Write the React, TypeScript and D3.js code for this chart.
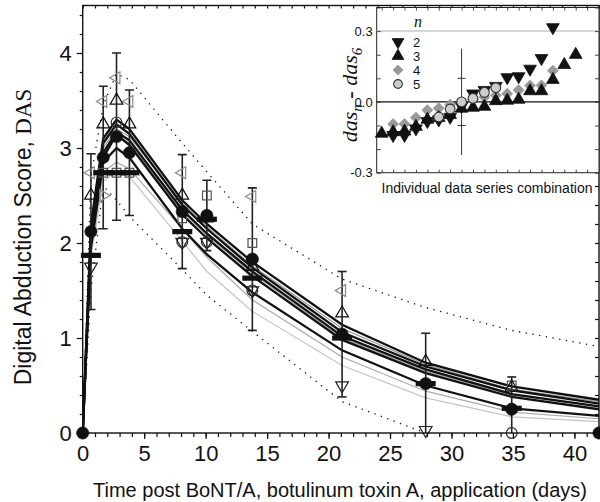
import React, { useEffect, useRef } from 'react'
import * as d3 from 'd3'

// measurement days
const days = [0, 0.67, 1.67, 2.75, 3.8, 8.1, 10.1, 13.8, 21.1, 27.9, 34.9, 42]

// mean DAS +/- SD (filled circles with error bars)
const dasMean = [0, 2.12, 2.9, 3.12, 2.95, 2.33, 2.29, 1.83, 1.04, 0.52, 0.25, 0]
const dasSd = [0, 0.82, 0.75, 0.88, 0.66, 0.6, 0.37, 0.75, 0.66, 0.53, 0.34, 0]

// individual data series (other symbols)
const dasDash = [null, 1.87, 2.74, 2.74, 2.74, 2.12, 2.25, 1.63, 1.0, 0.52, 0.26, null]
const dasUp = [null, 2.5, 3.25, 3.5, 3.25, 2.5, 2.26, 1.75, 1.26, 0.75, 0.48, null]
const dasDown = [null, 1.75, null, null, null, 2.01, 2.01, 1.5, 0.5, 0.03, null, null]
const dasLeft = [null, 2.74, 3.49, 3.74, 3.49, 2.74, null, 2.49, 1.5, null, null, null]
const dasRight = [null, null, 2.5, null, null, null, null, null, null, null, null, null]
const dasSquare = [null, null, 2.74, 2.74, 2.74, 2.26, 2.5, 2.0, null, null, 0.5, null]
const dasCircle = [null, null, null, 3.27, null, 2.01, 2.01, 1.5, null, null, 0.0, null]

// fitted curves
const fitA = [0, 2.2, 3.1, 3.3, 3.2, 2.45, 2.2, 1.8, 1.14, 0.74, 0.49, 0.35]
const fitD = [0, 2.15, 3.05, 3.25, 3.15, 2.4, 2.15, 1.74, 1.06, 0.7, 0.45, 0.31]
const fitB1 = [0, 2.05, 2.95, 3.17, 3.08, 2.35, 2.1, 1.7, 1.02, 0.67, 0.41, 0.28]
const fitB2 = [0, 2.0, 2.9, 3.14, 3.03, 2.3, 2.05, 1.65, 0.98, 0.63, 0.38, 0.25]
const fitC = [0, 1.95, 2.85, 3.0, 2.9, 2.15, 1.88, 1.48, 0.87, 0.5, 0.26, 0.18]
const fitG1 = [0, 2.1, 3.0, 3.2, 3.12, 2.42, 2.17, 1.76, 1.1, 0.72, 0.46, 0.33]
const fitG2 = [0, 2.05, 2.95, 3.15, 3.05, 2.33, 2.08, 1.68, 1.0, 0.65, 0.4, 0.28]
const fitG3 = [0, 1.9, 2.75, 2.85, 2.78, 2.15, 1.85, 1.4, 0.8, 0.44, 0.22, 0.15]
const fitG4 = [0, 1.85, 2.65, 2.75, 2.7, 2.02, 1.7, 1.28, 0.71, 0.37, 0.17, 0.12]
const bandUpper = [0, 2.7, 3.45, 3.78, 3.72, 3.05, 2.75, 2.2, 1.62, 1.32, 1.08, 0.91]
const bandLower = [0, 1.5, 2.6, 2.45, 2.28, 1.72, 1.45, 1.07, 0.33, 0, null, null]

const xMajor = [0, 5, 10, 15, 20, 25, 30, 35, 40]
const yMajor = [0, 1, 2, 3, 4]

// inset: das_n - das_6 per combination (index along x)
const combN2 = [[1, -0.141], [2, -0.141], [3, -0.113], [4, -0.082], [5, -0.075], [6, -0.064], [7, -0.018], [8, 0.035], [9, 0.05], [10, 0.067], [11, 0.104], [12, 0.108], [13, 0.14], [14, 0.185], [15, 0.316]]
const combN3 = [[0, -0.134], [1, -0.128], [2, -0.125], [3, -0.105], [4, -0.075], [5, -0.068], [6, -0.055], [7, -0.028], [8, -0.024], [9, -0.02], [10, 0.004], [11, 0.006], [12, 0.01], [13, 0.046], [14, 0.046], [15, 0.094], [16, 0.157], [17, 0.2]]
const combN4 = [[1, -0.094], [2, -0.094], [3, -0.067], [4, -0.035], [5, -0.027], [6, -0.012], [7, -0.005], [8, 0.01], [9, 0.02], [10, 0.028], [11, 0.035], [12, 0.05], [13, 0.069], [14, 0.07], [15, 0.132]]
const combN5 = [[5, -0.064], [6, -0.03], [7, 0.0], [8, 0.015], [9, 0.04], [10, 0.06]]
const insetRef = { index: 7, sd: 0.1, range: 0.225 }
const insetTicks = [-0.3, 0.0, 0.3]
const legendN = ['2', '3', '4', '5']

const sans = '"Liberation Sans", Arial, sans-serif'
const serif = '"Liberation Serif", "Times New Roman", serif'

export default function App() {
    const ref = useRef(null)

    useEffect(() => {
        document.body.style.margin = '0'
        const svg = d3.select(ref.current)
        svg.selectAll('*').remove()

        const x = d3.scaleLinear().domain([0, 42]).range([82.7, 599])
        const y = d3.scaleLinear().domain([0, 4.5]).range([433, 5.5])

        svg.append('defs').append('clipPath').attr('id', 'plot')
            .append('rect')
            .attr('x', x(0)).attr('y', y(4.5))
            .attr('width', x(42) - x(0)).attr('height', y(0) - y(4.5))

        const plot = svg.append('g').attr('clip-path', 'url(#plot)')

        const line = d3.line()
            .defined(d => d[1] != null)
            .x(d => x(d[0]))
            .y(d => y(d[1]))
        const pts = vals => days.map((d, i) => [d, vals[i]])

        // envelope (dotted)
        ;[bandUpper, bandLower].forEach(v => {
            plot.append('path').attr('d', line(pts(v)))
                .attr('fill', 'none').attr('stroke', '#111')
                .attr('stroke-width', 1.3).attr('stroke-dasharray', '1.3 5.5')
        })

        // gray curves
        ;[[fitG4, '#c4c4c4'], [fitG3, '#aaaaaa'], [fitG2, '#a0a0a0'], [fitG1, '#999999']].forEach(([v, c]) => {
            plot.append('path').attr('d', line(pts(v)))
                .attr('fill', 'none').attr('stroke', c).attr('stroke-width', 1.2)
        })
        // black curves
        ;[fitC, fitB2, fitB1, fitD, fitA].forEach(v => {
            plot.append('path').attr('d', line(pts(v)))
                .attr('fill', 'none').attr('stroke', '#111').attr('stroke-width', 2.3)
        })

        // error bars
        const bars = plot.append('g').attr('stroke', '#222').attr('stroke-width', 1.6)
        days.forEach((d, i) => {
            if (!dasSd[i]) return
            const top = y(dasMean[i] + dasSd[i])
            const bot = y(dasMean[i] - dasSd[i])
            bars.append('line').attr('x1', x(d)).attr('x2', x(d)).attr('y1', top).attr('y2', bot)
            bars.append('line').attr('x1', x(d) - 4.5).attr('x2', x(d) + 4.5).attr('y1', top).attr('y2', top)
            bars.append('line').attr('x1', x(d) - 4.5).attr('x2', x(d) + 4.5).attr('y1', bot).attr('y2', bot)
        })

        const marks = svg.append('g')
        const sym = (vals, type, size, rot, fill, stroke, sw) => {
            marks.selectAll(null)
                .data(pts(vals).filter(d => d[1] != null))
                .enter().append('path')
                .attr('d', d3.symbol().type(type).size(size))
                .attr('transform', d => `translate(${x(d[0])},${y(d[1])}) rotate(${rot})`)
                .attr('fill', fill).attr('stroke', stroke).attr('stroke-width', sw)
        }
        sym(dasSquare, d3.symbolSquare, 75, 0, 'none', '#555', 1.2)
        sym(dasLeft, d3.symbolTriangle, 60, -90, 'none', '#8a8a8a', 1.2)
        sym(dasRight, d3.symbolTriangle, 60, 90, 'none', '#8a8a8a', 1.2)
        sym(dasCircle, d3.symbolCircle, 90, 0, 'none', '#333', 1.2)
        sym(dasDown, d3.symbolTriangle, 70, 180, 'none', '#222', 1.2)
        sym(dasUp, d3.symbolTriangle, 70, 0, 'none', '#111', 1.2)

        marks.selectAll(null)
            .data(pts(dasDash).filter(d => d[1] != null))
            .enter().append('rect')
            .attr('x', d => x(d[0]) - 10).attr('y', d => y(d[1]) - 2.6)
            .attr('width', 20).attr('height', 5.2).attr('fill', '#111')

        sym(dasMean, d3.symbolCircle, 120, 0, '#111', '#111', 0.5)

        // main frame and ticks
        const frame = svg.append('g')
        frame.append('rect')
            .attr('x', x(0)).attr('y', y(4.5))
            .attr('width', x(42) - x(0)).attr('height', y(0) - y(4.5))
            .attr('fill', 'none').attr('stroke', '#111').attr('stroke-width', 1.4)

        const tickStyle = g => {
            g.select('.domain').remove()
            g.selectAll('line').attr('stroke', '#111').attr('stroke-width', 1.2)
        }
        const bottomMinor = d3.axisBottom(x).tickValues(d3.range(0, 43, 1)).tickSize(4).tickFormat(() => '')
        frame.append('g').attr('transform', `translate(0,${y(0)})`).call(bottomMinor).call(tickStyle)
        const bottomMajor = d3.axisBottom(x).tickValues(xMajor).tickSize(6).tickPadding(6).tickFormat(d3.format('d'))
        frame.append('g').attr('transform', `translate(0,${y(0)})`).call(bottomMajor).call(tickStyle)
            .selectAll('text').attr('font-family', sans).attr('font-size', 22).attr('fill', '#111')
        frame.append('g').attr('transform', `translate(0,${y(4.5)})`)
            .call(d3.axisBottom(x).tickValues(d3.range(0, 43, 1)).tickSize(3).tickFormat(() => '')).call(tickStyle)

        const leftMinor = d3.axisLeft(y).tickValues(d3.range(0, 4.51, 0.2)).tickSize(3).tickFormat(() => '')
        frame.append('g').attr('transform', `translate(${x(0)},0)`).call(leftMinor).call(tickStyle)
        const leftMajor = d3.axisLeft(y).tickValues(yMajor).tickSize(6).tickPadding(5).tickFormat(d3.format('d'))
        frame.append('g').attr('transform', `translate(${x(0)},0)`).call(leftMajor).call(tickStyle)
            .selectAll('text').attr('font-family', sans).attr('font-size', 22).attr('fill', '#111')
        frame.append('g').attr('transform', `translate(${x(42)},0)`)
            .call(d3.axisLeft(y).tickValues(d3.range(0, 4.51, 0.2)).tickSize(4).tickFormat(() => '')).call(tickStyle)

        // axis titles
        svg.append('text')
            .attr('transform', 'translate(31,237) rotate(-90)')
            .attr('text-anchor', 'middle')
            .attr('font-family', sans).attr('font-size', 23).attr('fill', '#111')
            .text('Digital Abduction Score, ')
            .append('tspan').attr('font-family', serif).text('DAS')
        svg.append('text')
            .attr('x', 340).attr('y', 497)
            .attr('text-anchor', 'middle')
            .attr('font-family', sans).attr('font-size', 20).attr('fill', '#111')
            .text('Time post BoNT/A, botulinum toxin A, application (days)')

        // ---------- inset ----------
        const xi = d3.scaleLinear().domain([0, 17]).range([381.7, 575.7])
        const yi = d3.scaleLinear().domain([-0.3, 0.4]).range([172.7, 7.5])
        const inset = svg.append('g')
        const left = 376.7, right = 599
        inset.append('rect')
            .attr('x', left).attr('y', yi(0.4))
            .attr('width', right - left).attr('height', yi(-0.3) - yi(0.4))
            .attr('fill', '#fff').attr('stroke', '#222').attr('stroke-width', 1)

        inset.append('line').attr('x1', left).attr('x2', right).attr('y1', yi(0.3)).attr('y2', yi(0.3))
            .attr('stroke', '#c8c8c8').attr('stroke-width', 1.5)
        inset.append('line').attr('x1', left).attr('x2', right).attr('y1', yi(0)).attr('y2', yi(0))
            .attr('stroke', '#111').attr('stroke-width', 1.1)

        const iTick = g => {
            g.select('.domain').remove()
            g.selectAll('line').attr('stroke', '#333').attr('stroke-width', 0.9)
        }
        inset.append('g').attr('transform', `translate(${left},0)`)
            .call(d3.axisRight(yi).tickValues(d3.range(-0.3, 0.41, 0.1)).tickSize(4).tickFormat(() => '')).call(iTick)
        inset.append('g').attr('transform', `translate(${right},0)`)
            .call(d3.axisLeft(yi).tickValues(d3.range(-0.3, 0.41, 0.1)).tickSize(4).tickFormat(() => '')).call(iTick)
        inset.append('g').attr('transform', `translate(0,${yi(-0.3)})`)
            .call(d3.axisTop(xi).tickValues(d3.range(0, 19)).tickSize(3).tickFormat(() => '')).call(iTick)
        inset.append('g').attr('transform', `translate(0,${yi(0.4)})`)
            .call(d3.axisBottom(xi).tickValues(d3.range(0, 19)).tickSize(3).tickFormat(() => '')).call(iTick)
        inset.append('g').attr('transform', `translate(${left},0)`)
            .call(d3.axisLeft(yi).tickValues(insetTicks).tickSize(0).tickPadding(4).tickFormat(d3.format('.1f')))
            .call(g => g.select('.domain').remove())
            .selectAll('text').attr('font-family', sans).attr('font-size', 13).attr('fill', '#111')
            .text(d => d === 0 ? '0.0' : d3.format('.1f')(d).replace('−', '-'))

        // reference cross
        const rc = inset.append('g').attr('stroke', '#333').attr('stroke-width', 1)
        rc.append('line').attr('x1', xi(insetRef.index)).attr('x2', xi(insetRef.index))
            .attr('y1', yi(insetRef.range)).attr('y2', yi(-insetRef.range))
        ;[insetRef.sd, -insetRef.sd].forEach(v => {
            rc.append('line').attr('x1', xi(insetRef.index) - 4).attr('x2', xi(insetRef.index) + 4)
                .attr('y1', yi(v)).attr('y2', yi(v))
        })

        const isym = (data, type, size, rot, fill, stroke, sw) => {
            inset.selectAll(null).data(data).enter().append('path')
                .attr('d', d3.symbol().type(type).size(size))
                .attr('transform', d => `translate(${xi(d[0])},${yi(d[1])}) rotate(${rot})`)
                .attr('fill', fill).attr('stroke', stroke).attr('stroke-width', sw)
        }
        isym(combN4, d3.symbolSquare, 60, 45, '#999', '#999', 0.8)
        isym(combN3, d3.symbolTriangle, 70, 0, '#111', '#111', 0.8)
        isym(combN2, d3.symbolTriangle, 70, 180, '#111', '#111', 0.8)
        isym(combN5, d3.symbolCircle, 75, 0, '#ccc', '#333', 1.1)

        // legend
        const lg = inset.append('g')
        lg.append('text').attr('x', 418).attr('y', 27)
            .attr('font-family', serif).attr('font-style', 'italic').attr('font-size', 16).attr('fill', '#111')
            .attr('text-anchor', 'middle').text('n')
        const legendY = d3.scalePoint().domain(legendN).range([42, 84])
        const legendSym = [
            [d3.symbolTriangle, 180, '#111', '#111', 0.8, 60],
            [d3.symbolTriangle, 0, '#111', '#111', 0.8, 60],
            [d3.symbolSquare, 45, '#999', '#999', 0.8, 50],
            [d3.symbolCircle, 0, '#ccc', '#333', 1.1, 60],
        ]
        legendN.forEach((n, i) => {
            const [t, r, f, s, w, sz] = legendSym[i]
            lg.append('path').attr('d', d3.symbol().type(t).size(sz)())
                .attr('transform', `translate(398,${legendY(n)}) rotate(${r})`)
                .attr('fill', f).attr('stroke', s).attr('stroke-width', w)
            lg.append('text').attr('x', 413).attr('y', legendY(n) + 5)
                .attr('font-family', sans).attr('font-size', 13).attr('fill', '#111').text(n)
        })

        // inset titles
        const yl = svg.append('text')
            .attr('transform', 'translate(357,95) rotate(-90)')
            .attr('text-anchor', 'middle')
            .attr('font-family', serif).attr('font-style', 'italic').attr('font-size', 22).attr('fill', '#111')
        yl.append('tspan').text('das')
        yl.append('tspan').attr('font-size', 15).attr('dy', 5).text('n')
        yl.append('tspan').attr('dy', -5).attr('font-style', 'normal').attr('font-weight', 'bold').text(' - ')
        yl.append('tspan').text('das')
        yl.append('tspan').attr('font-size', 15).attr('dy', 5).text('6')

        svg.append('text')
            .attr('x', 487).attr('y', 193)
            .attr('text-anchor', 'middle')
            .attr('font-family', sans).attr('font-size', 14).attr('fill', '#111')
            .text('Individual data series combination')
    }, [])

    return <svg ref={ref} width={600} height={502} style={{ display: 'block', background: '#fff' }} />
}
